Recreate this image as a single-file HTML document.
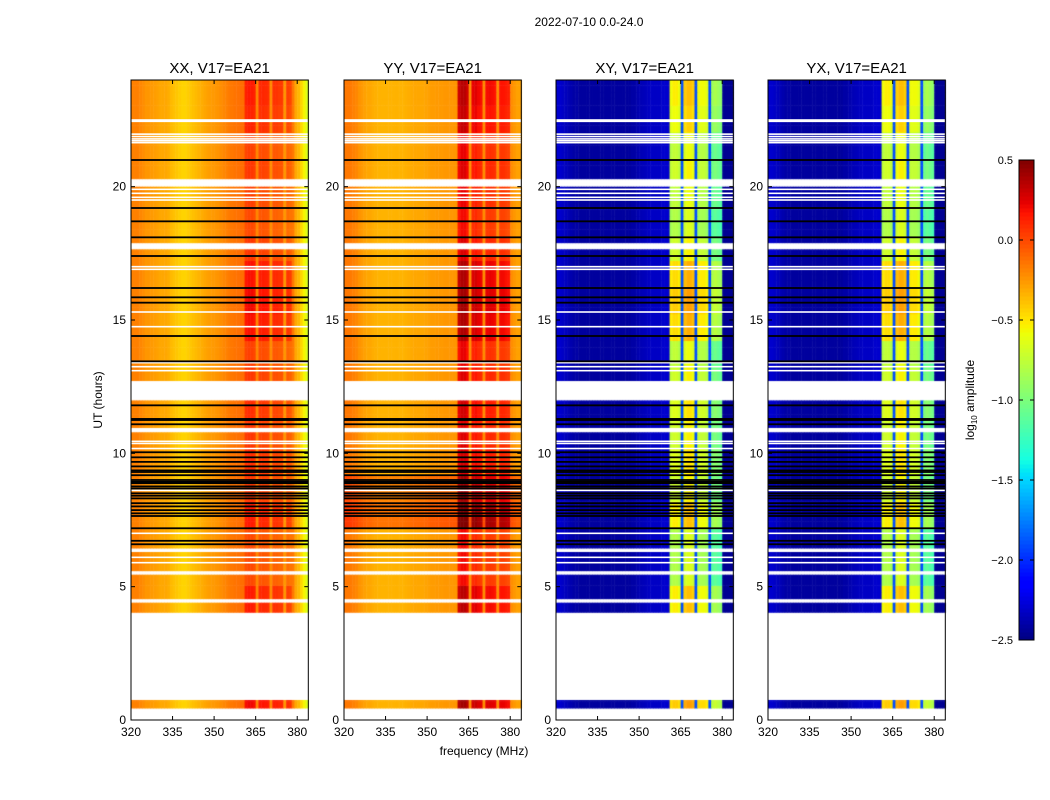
<!DOCTYPE html>
<html><head><meta charset="utf-8"><style>
body{margin:0;background:#fff;width:1050px;height:800px;overflow:hidden;font-family:"Liberation Sans",sans-serif}
#c{position:absolute;left:0;top:0}
svg{position:absolute;left:0;top:0}
</style></head><body>
<canvas id="c" width="1050" height="800"></canvas>
<svg id="s" width="1050" height="800"></svg>
<script>
// ---- data ----
const channels=[];for(let f=320;f<384;f++)channels.push(f);
const profXX=[-0.18,-0.18,-0.18,-0.2,-0.22,-0.25,-0.25,-0.26,-0.27,-0.28,-0.3,-0.3,-0.3,-0.32,-0.36,-0.38,-0.4,-0.42,-0.44,-0.44,-0.42,-0.4,-0.38,-0.36,-0.34,-0.32,-0.3,-0.28,-0.27,-0.26,-0.25,-0.24,-0.22,-0.2,-0.18,-0.16,-0.15,-0.14,-0.13,-0.12,-0.12,-0.02,0.0,0.0,-0.02,-0.2,-0.05,-0.04,-0.05,-0.06,-0.22,-0.08,-0.08,-0.1,-0.1,-0.25,-0.12,-0.14,-0.15,-0.3,-0.35,-0.45,-0.55,-0.65];
const profYY=[-0.15,-0.15,-0.16,-0.18,-0.2,-0.24,-0.26,-0.28,-0.3,-0.3,-0.32,-0.33,-0.34,-0.34,-0.34,-0.34,-0.34,-0.34,-0.34,-0.34,-0.34,-0.34,-0.33,-0.32,-0.31,-0.3,-0.3,-0.3,-0.3,-0.29,-0.28,-0.27,-0.27,-0.26,-0.26,-0.26,-0.25,-0.25,-0.25,-0.25,-0.25,0.15,0.2,0.2,0.15,-0.22,0.08,0.1,0.06,0.04,-0.22,0.04,0.05,0.04,0.02,-0.22,0.02,0.02,0.0,-0.02,-0.22,-0.25,-0.28,-0.28];
const profXY=[-2.3,-2.3,-2.32,-2.34,-2.36,-2.38,-2.4,-2.4,-2.42,-2.42,-2.42,-2.42,-2.42,-2.42,-2.42,-2.42,-2.42,-2.42,-2.42,-2.42,-2.42,-2.42,-2.42,-2.42,-2.42,-2.42,-2.42,-2.4,-2.4,-2.38,-2.36,-2.35,-2.34,-2.33,-2.32,-2.32,-2.32,-2.32,-2.3,-2.3,-2.3,-0.85,-0.8,-0.8,-0.85,-1.9,-0.7,-0.65,-0.65,-0.7,-1.9,-0.85,-0.85,-0.85,-0.9,-1.9,-1.15,-1.1,-1.15,-1.2,-2.45,-2.45,-2.45,-2.45];
const profYX=[-2.3,-2.3,-2.32,-2.34,-2.36,-2.38,-2.4,-2.4,-2.42,-2.42,-2.42,-2.42,-2.42,-2.42,-2.42,-2.42,-2.42,-2.42,-2.42,-2.42,-2.42,-2.42,-2.42,-2.42,-2.42,-2.42,-2.42,-2.4,-2.4,-2.38,-2.36,-2.35,-2.34,-2.33,-2.32,-2.32,-2.32,-2.32,-2.3,-2.3,-2.3,-0.85,-0.8,-0.8,-0.85,-1.9,-0.7,-0.65,-0.65,-0.7,-1.9,-0.85,-0.85,-0.85,-0.9,-1.9,-1.15,-1.1,-1.15,-1.2,-2.45,-2.45,-2.45,-2.45];
// per-hour boost in RFI band (hours 0..23)
const rfiBoost=[0.35,0.3,0.3,0.3,0.25,0.0,0.0,0.25,0.1,0.15,0.1,0.15,0.1,0.05,0.3,0.35,0.3,0.1,0.0,0.05,0.1,0.05,0.2,0.25];
const yyBroadBoost=[0,0,0,0,0,0,0,0.2,0.15,0,0,0,0,0,0,0,0,0,0,0,0,0,0,0];
const segments=[[0.45,0.75],[4.04,4.4],[4.55,5.45],[5.6,6.3],[6.45,10.79],[10.97,11.98],[12.73,17.65],[17.9,20.0],[20.3,24]];
const blackRows=[21.0,19.2,18.7,18.1,17.4,16.2,15.85,15.65,14.4,13.45,11.8,11.29,11.25,11.09,10.04,9.85,9.68,9.51,9.36,9.3,9.18,9.0,8.93,8.88,8.76,8.68,8.5,8.41,8.31,8.13,8.01,7.87,7.75,7.65,7.19,6.72,6.59];
const whiteRows=[22.5,22.45,21.97,21.88,21.79,21.72,21.65,19.9,19.75,19.6,19.5,17.0,16.9,15.3,14.75,13.4,13.25,13.1,10.45,10.37,10.18,8.61,7.0,6.1,5.9];
const xTicks=[320,335,350,365,380];
const yTicks=[0,5,10,15,20];
const cbTicks=[0.5,0.0,-0.5,-1.0,-1.5,-2.0,-2.5];
const panelTitles=["XX, V17=EA21","YY, V17=EA21","XY, V17=EA21","YX, V17=EA21"];
// ---- layout ----
const panelLeft=[131,344,556,768], PW=177.3, PT=80, PB=720;
const fx=(p,f)=>panelLeft[p]+(f-320)/(384-320)*PW;
const hy=h=>PB-h/24*(PB-PT);
const vmin=-2.5,vmax=0.5;
const JR=[[0,0],[0.35,0],[0.66,1],[0.89,1],[1,0.5]];
const JG=[[0,0],[0.125,0],[0.375,1],[0.64,1],[0.91,0],[1,0]];
const JB=[[0,0.5],[0.11,1],[0.34,1],[0.65,0],[1,0]];
function seg(t,x){for(let i=1;i<t.length;i++){if(x<=t[i][0]){const a=t[i-1],b=t[i];return a[1]+(b[1]-a[1])*(x-a[0])/(b[0]-a[0]);}}return t[t.length-1][1];}
function jet(v){let x=(v-vmin)/(vmax-vmin);x=Math.max(0,Math.min(1,x));
 return `rgb(${Math.round(255*seg(JR,x))},${Math.round(255*seg(JG,x))},${Math.round(255*seg(JB,x))})`;}
const ctx=document.getElementById('c').getContext('2d');
const profs=[profXX,profYY,profXY,profYX];
for(let p=0;p<4;p++){
 for(const [h0,h1] of segments){
  const step=0.25;
  for(let h=h0;h<h1-1e-6;h+=step){
   const he=Math.min(h1,h+step);const hr=Math.min(23,Math.floor(h));
   for(let i=0;i<channels.length;i++){
    const f=channels[i];let v=profs[p][i];
    const inBand=f>=361&&f<=379&&profs[p][i]>(p<2?-0.15:-1.5);
    if(inBand)v+=rfiBoost[hr]*(p<2?0.6:1.1);
    if(p==1)v+=yyBroadBoost[hr];
    ctx.fillStyle=jet(v);
    const x0=fx(p,f),x1=fx(p,f+1);
    ctx.fillRect(x0,hy(he),x1-x0+0.5,hy(h)-hy(he)+0.5);
   }
  }
 }
}
// ---- svg ----
const S=document.getElementById('s');const NS='http://www.w3.org/2000/svg';
function el(t,a,txt){const e=document.createElementNS(NS,t);for(const k in a)e.setAttribute(k,a[k]);if(txt!==undefined)e.textContent=txt;S.appendChild(e);return e;}
for(let p=0;p<4;p++){
 const L=panelLeft[p],R=L+PW;
 for(const h of whiteRows){const r=el('rect',{x:L,y:hy(h)-0.8,width:PW,height:1.6,fill:'#fff'});
  }
 for(const h of blackRows){const r=el('rect',{x:L,y:hy(h)-0.9,width:PW,height:1.8,fill:'#000'});
  }
 const fr=el('rect',{x:L,y:PT,width:PW,height:PB-PT,fill:'none',stroke:'#000','stroke-width':1});
 
 const t=el('text',{x:L+PW/2,y:PT-7,'text-anchor':'middle','font-size':15},panelTitles[p]);
 
 for(const f of xTicks){const x=fx(p,f);
  el('line',{x1:x,x2:x,y1:PB,y2:PB-4,stroke:'#000'});el('line',{x1:x,x2:x,y1:PT,y2:PT+4,stroke:'#000'});
  const tl=el('text',{x:x,y:PB+16,'text-anchor':'middle','font-size':12},String(f));
  }
 for(const h of yTicks){const y=hy(h);
  el('line',{x1:L,x2:L+4,y1:y,y2:y,stroke:'#000'});el('line',{x1:R,x2:R-4,y1:y,y2:y,stroke:'#000'});
  const tl=el('text',{x:L-5,y:y+4,'text-anchor':'end','font-size':12},String(h));
  }
}
let e;
e=el('text',{x:589,y:26,'text-anchor':'middle','font-size':12},'2022-07-10 0.0-24.0');

e=el('text',{x:484,y:755,'text-anchor':'middle','font-size':12},'frequency (MHz)');

e=el('text',{x:102,y:400,'text-anchor':'middle','font-size':12,transform:'rotate(-90 102 400)'},'UT (hours)');

// colorbar
const CX=1019,CW=15,CT=160,CB=640;
const cv=v=>CB-(v-vmin)/(vmax-vmin)*(CB-CT);
for(let i=0;i<120;i++){const v0=vmin+i*(vmax-vmin)/120,v1=vmin+(i+1)*(vmax-vmin)/120;
 el('rect',{x:CX,y:cv(v1),width:CW,height:cv(v0)-cv(v1)+0.5,fill:jet((v0+v1)/2)});}
e=el('rect',{x:CX,y:CT,width:CW,height:CB-CT,fill:'none',stroke:'#000'});

for(const v of cbTicks){const y=cv(v);
 el('line',{x1:CX,x2:CX+4,y1:y,y2:y,stroke:'#000'});el('line',{x1:CX+CW,x2:CX+CW-4,y1:y,y2:y,stroke:'#000'});
 const tl=el('text',{x:CX-6,y:y+4,'text-anchor':'end','font-size':11},(v<0?'\u2212':'')+Math.abs(v).toFixed(1));
 }
e=el('text',{x:974,y:400,'text-anchor':'middle','font-size':12,transform:'rotate(-90 974 400)'});
e.innerHTML='log<tspan font-size="8" dy="3">10</tspan><tspan dy="-3"> amplitude</tspan>';

</script>
</body></html>
